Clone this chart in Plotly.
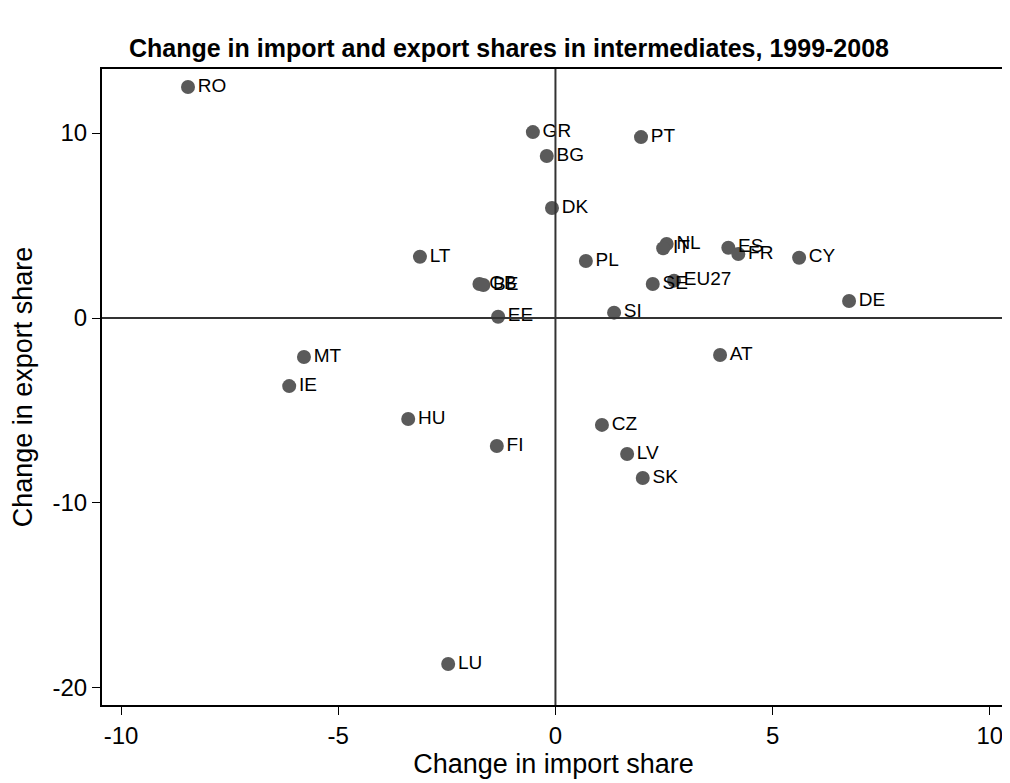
import plotly.graph_objects as go

countries = ["RO", "GR", "PT", "BG", "DK", "NL", "IT", "ES", "FR", "CY", "LT", "PL",
             "GB", "BE", "SE", "EU27", "EE", "SI", "DE", "AT", "MT", "IE", "HU", "FI",
             "CZ", "LV", "SK", "LU"]
import_change = [-8.46, -0.52, 1.97, -0.20, -0.08, 2.56, 2.48, 3.98, 4.21, 5.61, -3.12, 0.70,
                 -1.75, -1.66, 2.24, 2.73, -1.32, 1.35, 6.76, 3.79, -5.79, -6.13, -3.39, -1.35,
                 1.07, 1.65, 2.01, -2.47]
export_change = [12.49, 10.05, 9.78, 8.76, 5.95, 4.00, 3.77, 3.80, 3.46, 3.26, 3.31, 3.08,
                 1.84, 1.78, 1.84, 2.02, 0.07, 0.29, 0.92, -2.00, -2.11, -3.68, -5.46, -6.92,
                 -5.78, -7.35, -8.65, -18.70]

x_ticks = [-10, -5, 0, 5, 10]
y_ticks = [-20, -10, 0, 10]

fig = go.Figure()

fig.add_trace(go.Scatter(
    x=import_change, y=export_change, mode="markers+text",
    text=countries, textposition="middle right",
    textfont=dict(family="Liberation Sans, Arial", size=19, color="black"),
    marker=dict(size=14, color="#5a5a5a"),
    cliponaxis=False, showlegend=False))

fig.add_vline(x=0, line=dict(color="#333333", width=2))
fig.add_hline(y=0, line=dict(color="#333333", width=2))

axis_common = dict(showgrid=False, zeroline=False, showline=True, mirror=True,
                   linecolor="black", linewidth=2, ticks="outside", ticklen=8,
                   tickcolor="black", tickfont=dict(size=24, color="black"),
                   title_font=dict(size=27, color="black"))

fig.update_xaxes(range=[-10.44, 10.35], tickvals=x_ticks,
                 ticktext=[str(v) for v in x_ticks],
                 title_text="Change in import share", title_standoff=0, **axis_common)
fig.update_yaxes(range=[-20.92, 13.46], tickvals=y_ticks,
                 ticktext=[str(v) for v in y_ticks],
                 title_text="Change in export share", title_standoff=14, **axis_common)

fig.update_layout(
    width=1002, height=775,
    title=dict(text="<b>Change in import and export shares in intermediates, 1999-2008</b>",
               x=0.5, xanchor="center", y=0.948, yanchor="middle",
               font=dict(size=25, color="black", family="Liberation Sans, Arial")),
    font=dict(family="Liberation Sans, Arial", color="black"),
    plot_bgcolor="white", paper_bgcolor="white",
    margin=dict(l=94, r=5, t=61, b=78, autoexpand=False),
)

fig.write_html("out.html")
